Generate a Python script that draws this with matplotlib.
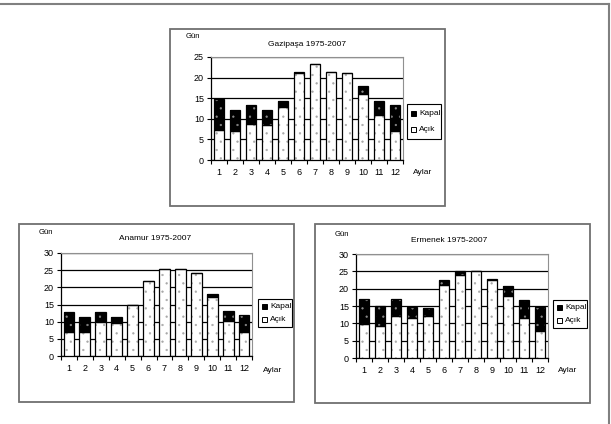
import matplotlib
matplotlib.use("Agg")
import matplotlib.pyplot as plt
from matplotlib.patches import Rectangle
from matplotlib.lines import Line2D
import numpy as np

plt.rcParams['font.family'] = ['Liberation Sans', 'DejaVu Sans']
plt.rcParams['hatch.linewidth'] = 0.4

months = [1, 2, 3, 4, 5, 6, 7, 8, 9, 10, 11, 12]

gazipasa_acik = [7.3, 7.0, 8.8, 8.6, 12.9, 21.0, 23.4, 21.3, 21.0, 16.0, 11.0, 7.1]
gazipasa_kapali = [7.4, 5.2, 4.6, 3.6, 1.3, 0.3, 0.0, 0.0, 0.0, 2.0, 3.3, 6.3]

anamur_acik = [6.9, 7.1, 9.8, 9.7, 14.9, 21.8, 25.3, 25.3, 24.3, 17.3, 10.3, 6.9]
anamur_kapali = [5.8, 4.2, 2.9, 1.6, 0.1, 0.0, 0.0, 0.0, 0.0, 0.9, 2.8, 4.9]

ermenek_acik = [9.8, 9.2, 12.0, 11.4, 12.0, 21.2, 24.0, 25.0, 22.5, 18.0, 11.4, 7.9]
ermenek_kapali = [7.2, 5.9, 5.0, 3.3, 2.3, 1.3, 1.0, 0.0, 0.3, 2.8, 5.3, 6.9]

W, H = 611, 424
fig = plt.figure(figsize=(W / 100, H / 100), dpi=100)


def rect(l, t, r, b):
    return [l / W, 1 - b / H, (r - l) / W, (b - t) / H]


def fx(x):
    return x / W


def fy(y):
    return 1 - y / H


# outer frame (top and right)
fig.add_artist(Line2D([0, fx(609)], [fy(4), fy(4)], color='#808080', lw=1.5,
                      transform=fig.transFigure))
fig.add_artist(Line2D([fx(609), fx(609)], [fy(4), 0], color='#808080', lw=1.5,
                      transform=fig.transFigure))

charts = [
    dict(title='Gazipaşa 1975-2007', acik=gazipasa_acik, kapali=gazipasa_kapali,
         box=(170, 29, 445, 206), plot=(211, 57, 403, 160), ymax=25,
         gun=(193, 36), tt=(307, 44), leg=(407, 104, 441, 139), aylar=(423, 173)),
    dict(title='Anamur 1975-2007', acik=anamur_acik, kapali=anamur_kapali,
         box=(19, 224, 294, 402), plot=(61, 253, 252, 356), ymax=30,
         gun=(46, 233), tt=(155, 239), leg=(258, 299, 292, 327), aylar=(273, 370)),
    dict(title='Ermenek 1975-2007', acik=ermenek_acik, kapali=ermenek_kapali,
         box=(315, 224, 590, 403), plot=(356, 254, 548, 358), ymax=30,
         gun=(342, 234), tt=(449, 240), leg=(553, 300, 587, 328), aylar=(568, 371)),
]

fs = 6.5
for c in charts:
    l, t, r, b = c['box']
    fig.add_artist(Rectangle((fx(l), fy(b)), fx(r) - fx(l), fy(t) - fy(b),
                             transform=fig.transFigure, fill=False,
                             edgecolor='#707070', lw=1.3))
    ax = fig.add_axes(rect(*c['plot']))
    x = np.array(months)
    acik = np.array(c['acik'])
    kap = np.array(c['kapali'])
    w = 0.68
    ax.bar(x, acik, w, color='white', edgecolor='#a8a8a8', hatch='..', lw=0, zorder=3)
    ax.bar(x, acik, w, fill=False, edgecolor='black', lw=0.9, zorder=4)
    ax.bar(x, kap, w, bottom=acik, color='black', edgecolor='#8a8a8a', hatch='..',
           lw=0, zorder=3)
    ax.bar(x, kap, w, bottom=acik, fill=False, edgecolor='black', lw=0.9, zorder=4)

    ax.set_xlim(0.5, 12.5)
    ax.set_ylim(0, c['ymax'])
    yt = np.arange(0, c['ymax'] + 1, 5)
    ax.set_yticks(yt)
    ax.set_axisbelow(True)
    ax.yaxis.grid(True, color='black', lw=0.9)
    ax.set_xticks(x)
    ax.set_xticks(np.arange(0.5, 13, 1), minor=True)
    ax.tick_params(axis='x', which='major', length=0, labelsize=fs, pad=6)
    ax.tick_params(axis='x', which='minor', length=3, width=0.8, direction='out')
    ax.tick_params(axis='y', length=3, width=0.8, labelsize=fs, pad=2)
    for s in ['top', 'right']:
        ax.spines[s].set_color('#909090')
        ax.spines[s].set_linewidth(0.8)
    for s in ['left', 'bottom']:
        ax.spines[s].set_color('black')
        ax.spines[s].set_linewidth(0.9)

    fig.text(fx(c['gun'][0]), fy(c['gun'][1]), 'Gün', fontsize=5.5,
             ha='center', va='center')
    fig.text(fx(c['tt'][0]), fy(c['tt'][1]), c['title'], fontsize=6,
             ha='center', va='center')
    fig.text(fx(c['aylar'][0]), fy(c['aylar'][1]), 'Aylar', fontsize=6,
             ha='center', va='center')

    ll, lt, lr, lb = c['leg']
    fig.add_artist(Rectangle((fx(ll), fy(lb)), fx(lr) - fx(ll), fy(lt) - fy(lb),
                             transform=fig.transFigure, fill=True, facecolor='white',
                             edgecolor='black', lw=0.8))
    rows = [('Kapalı', 'black'), ('Açık', 'white')]
    hgt = lb - lt
    for i, (lab, col) in enumerate(rows):
        yy = lt + hgt * (0.28 + 0.46 * i)
        fig.add_artist(Rectangle((fx(ll + 4), fy(yy + 2.5)), fx(5), 5 / H,
                                 transform=fig.transFigure, facecolor=col,
                                 edgecolor='black', lw=0.7))
        fig.text(fx(ll + 12), fy(yy), lab, fontsize=6, ha='left', va='center')

fig.savefig('out.png', dpi=100)
